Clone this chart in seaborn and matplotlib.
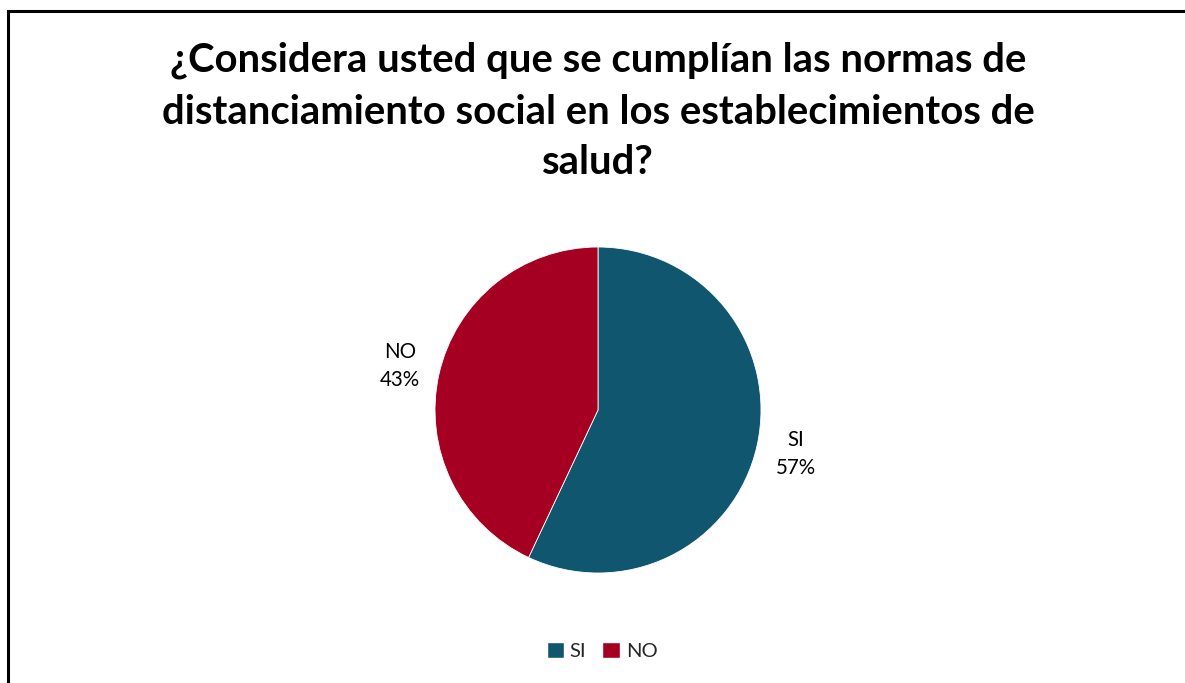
import matplotlib
matplotlib.use("Agg")
import matplotlib.pyplot as plt
import seaborn as sns
from matplotlib.patches import Rectangle

# Survey answers
categories = ["SI", "NO"]
shares = [57, 43]
colors = ["#10566F", "#A50021"]
title_lines = [
    "¿Considera usted que se cumplían las normas de",
    "distanciamiento social en los establecimientos de",
    "salud?",
]

sns.set_theme(style="white")
plt.rcParams["font.family"] = ["Lato", "DejaVu Sans"]

W, H = 1185, 683
fig = plt.figure(figsize=(W / 100, H / 100), dpi=100)
fig.patch.set_facecolor("white")

# Chart-area frame (top and left edges visible, right/bottom run off the canvas)
fig.patches.append(Rectangle((7.5 / W, -0.05), 1.2, (H - 10.5) / H + 0.05,
                             transform=fig.transFigure, fill=False,
                             edgecolor="black", linewidth=2.2))

# Title, one line at a time
for y, line in zip([60, 112, 163], title_lines):
    fig.text(598 / W, 1 - y / H, line, ha="center", va="center",
             fontsize=28.8, fontweight="bold", color="black")

# Pie
cx, cy, r = 598, 410, 163
ax = fig.add_axes([(cx - r) / W, (H - cy - r) / H, 2 * r / W, 2 * r / H])
label_iter = iter(categories)
wedges, _, autotexts = ax.pie(
    shares, colors=colors, startangle=90, counterclock=False,
    autopct=lambda p: f"{next(label_iter)}\n{p:.0f}%", pctdistance=1.245,
    radius=1.0, wedgeprops=dict(edgecolor="white", linewidth=0.6),
    textprops=dict(fontsize=14.8, color="black", linespacing=1.5),
)
ax.set_xlim(-1, 1)
ax.set_ylim(-1, 1)
ax.set_aspect("equal")
ax.axis("off")

# Legend
handles = [Rectangle((0, 0), 1, 1, facecolor=c) for c in colors]
fig.legend(handles, categories, loc="center", bbox_to_anchor=(602 / W, 1 - 651 / H),
           ncol=2, frameon=False, fontsize=14.5, handlelength=0.85, handleheight=0.85,
           handletextpad=0.3, columnspacing=0.8)

fig.savefig("out.png", dpi=100, facecolor="white")
